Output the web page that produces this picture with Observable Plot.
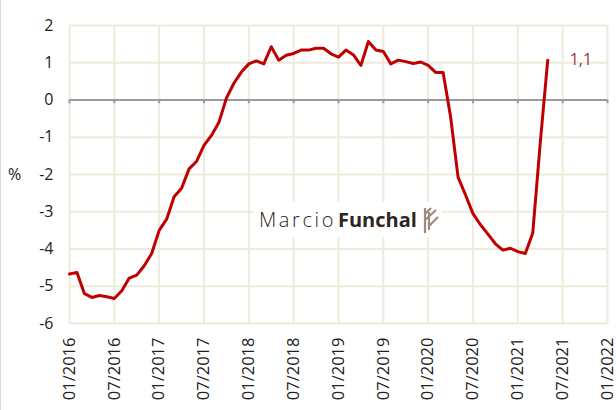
<!DOCTYPE html>
<html>
<head>
<meta charset="utf-8">
<script src="https://cdn.jsdelivr.net/npm/d3@7"></script>
<script src="https://cdn.jsdelivr.net/npm/@observablehq/plot@0.6"></script>
<style>
  html, body { margin: 0; padding: 0; background: #fff; }
  #wrap { position: relative; width: 616px; height: 410px; overflow: hidden; }
  #edge { position: absolute; left: 0; top: 0; width: 1px; height: 410px; background: #dcdcdc; }
  svg { font-family: "Open Sans", sans-serif; }
</style>
</head>
<body>
<div id="wrap"><div id="edge"></div></div>
<script>
// Monthly values, 01/2016 .. 05/2021 (%)
const values = [
  -4.67, -4.63, -5.2, -5.3, -5.25, -5.28, -5.33, -5.12, -4.78, -4.7, -4.45, -4.12,
  -3.5, -3.2, -2.6, -2.37, -1.85, -1.65, -1.22, -0.95, -0.6, 0.05, 0.45, 0.75,
  0.97, 1.05, 0.97, 1.43, 1.07, 1.2, 1.25, 1.34, 1.34, 1.39, 1.39, 1.24,
  1.15, 1.34, 1.21, 0.93, 1.57, 1.34, 1.3, 0.97, 1.07, 1.03, 0.98, 1.02,
  0.93, 0.74, 0.74, -0.45, -2.07, -2.55, -3.05, -3.35, -3.6, -3.86, -4.03, -3.98,
  -4.07, -4.12, -3.57, -1.15, 1.07
];
const tickLabels = ["01/2016","07/2016","01/2017","07/2017","01/2018","07/2018","01/2019",
  "07/2019","01/2020","07/2020","01/2021","07/2021","01/2022"];
const yTicks = [-6, -5, -4, -3, -2, -1, 0, 1, 2];
const lastLabel = "1,1";

const data = values.map((v, i) => ({i, v}));
const tickPos = tickLabels.map((_, k) => k * 6);
const gridColor = "#ecebdc";

const chart = Plot.plot({
  width: 616,
  height: 410,
  marginLeft: 69,
  marginRight: 9,
  marginTop: 25,
  marginBottom: 87,
  style: {fontFamily: "Open Sans, sans-serif", background: "transparent", overflow: "visible"},
  x: {domain: [0, 72]},
  y: {domain: [-6, 2]},
  marks: [
    Plot.gridX(tickPos, {stroke: gridColor, strokeOpacity: 1, strokeWidth: 2}),
    Plot.gridY(yTicks, {stroke: gridColor, strokeOpacity: 1, strokeWidth: 2}),
    Plot.ruleY([0], {stroke: "#9a9a9a", strokeWidth: 2}),
    Plot.ruleX(tickPos, {y1: 0, y2: -0.1, stroke: "#9a9a9a", strokeWidth: 2}),
    Plot.axisY(yTicks, {tickSize: 0, tickPadding: 16, fontSize: 16, fill: "#222", tickFormat: d => String(d), label: null}),
    Plot.axisX(tickPos, {tickSize: 0, tickPadding: 14, tickRotate: -90, fontSize: 16.5, fill: "#222",
      tickFormat: d => tickLabels[d / 6], label: null}),
    Plot.text(["%"], {frameAnchor: "left", dx: -55, fontSize: 16, fill: "#222", textAnchor: "middle"}),
    Plot.line(data, {x: "i", y: "v", stroke: "#c00000", strokeWidth: 3, strokeLinejoin: "round"}),
    Plot.text([data[data.length - 1]], {x: "i", y: "v", text: () => lastLabel, dx: 22, textAnchor: "start",
      fontSize: 16, fill: "#8b3a44"})
  ]
});
document.getElementById("wrap").appendChild(chart);

// Watermark (decoration)
const svg = d3.select(chart);
const wm = svg.append("g");
wm.append("rect").attr("x", 253).attr("y", 202).attr("width", 189).attr("height", 35).attr("fill", "#fff");
const t = wm.append("text").attr("x", 259).attr("y", 227).attr("font-size", 20).attr("fill", "#2e2520")
  .attr("text-anchor", "start")
  .style("font-family", "Open Sans, sans-serif");
t.append("tspan").attr("font-weight", 300).attr("letter-spacing", "2.6px").text("Marcio");
t.append("tspan").attr("font-weight", 700).attr("dx", 2).text("Funchal");
const logo = wm.append("g").attr("stroke", "#a08c7e").attr("stroke-width", 2.2).attr("fill", "none");
logo.append("path").attr("d", "M425,208 V233 M429,212 V230 M425,220 L436,210 M429,226 L438,217 M425,214 L431,208");
</script>
</body>
</html>
